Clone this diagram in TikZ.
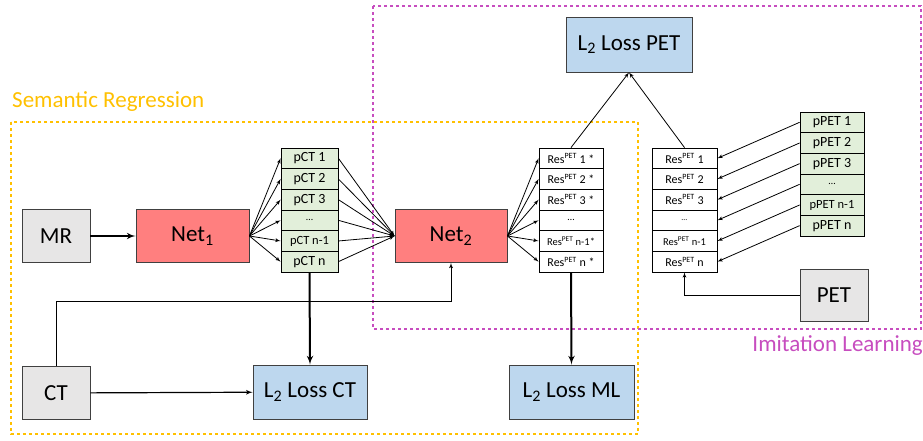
\documentclass[tikz,border=0pt]{standalone}
\usepackage{fontspec}
\setmainfont{Carlito}
\usetikzlibrary{arrows,shapes,calc}
\usetikzlibrary{positioning}
\definecolor{inputgray}{HTML}{E7E6E6}
\definecolor{netred}{HTML}{FF7F7F}
\definecolor{lossblue}{HTML}{BDD7EE}
\definecolor{predgreen}{HTML}{E2EFDA}
\definecolor{semyellow}{HTML}{FFC000}
\definecolor{imimagenta}{HTML}{C74DBF}
\definecolor{boxline}{HTML}{404040}
\newcommand{\respet}{Res\textsuperscript{PET}}
\tikzset{
    block/.style={
           rectangle,
           draw=boxline, line width=0.9pt,
           minimum height=53pt,
           inner sep=2pt,
           text centered,
           font=\fontsize{23}{25}\selectfont,
           },
    cell/.style={
           rectangle,
           draw=black, line width=0.8pt,
           minimum height=20.67pt,
           inner sep=0pt,
           text centered,
           font=\fontsize{14}{15}\selectfont,
           },
    pil/.style={
           ->,
           line width=0.8pt,},
    bigpil/.style={
           ->,
           line width=2pt,},
    regionframe/.style={
           line width=2.6pt,
           dash pattern=on 2.6pt off 3.4pt,}
}

\begin{document}
\begin{tikzpicture}[x=1pt,y=1pt,->,>=latex']
\useasboundingbox (0,0) rectangle (923,-440);
% Regions
\draw[-, regionframe, semyellow] (11,-122) rectangle (638,-434);
\draw[-, regionframe, imimagenta] (373,-6) rectangle (921,-329);
\node[anchor=base west, inner sep=0pt, text=semyellow,
font=\fontsize{23}{25}\selectfont] (SEMLABEL) at (12,-107) {Semantic Regression};
\node[anchor=base east, inner sep=0pt, text=imimagenta,
font=\fontsize{23}{25}\selectfont] (IMILABEL) at (923,-351) {Imitation Learning};
% Position of inputs and networks
\node[block, fill=inputgray, minimum width=68pt] (MR) at (56,-236) {MR};
\node[block,
fill=netred,
minimum width=113pt,
right of = MR,
node distance = 136.5pt] (NET1) {Net\textsubscript{1}};
\node[block,
fill=netred,
minimum width=112pt,
right of = NET1,
node distance = 258.5pt] (NET2) {Net\textsubscript{2}};
\node[block,
fill=inputgray,
minimum width=68pt,
below of = MR,
node distance = 157pt] (CT) {CT};
% Position of pseudo CT stack (PCT)
\node[cell, fill=predgreen, minimum width=57pt, right of = NET1, node distance = 117pt, yshift=77.7pt] (PCT1) {pCT 1};
\node[cell, fill=predgreen, minimum width=57pt, below of = PCT1, node distance = 20.67pt] (PCT2) {pCT 2};
\node[cell, fill=predgreen, minimum width=57pt, below of = PCT2, node distance = 20.67pt] (PCT3) {pCT 3};
\node[cell, fill=predgreen, minimum width=57pt, below of = PCT3, node distance = 20.67pt, font=\fontsize{10}{11}\selectfont] (PCT4) {\dots};
\node[cell, fill=predgreen, minimum width=57pt, below of = PCT4, node distance = 20.67pt, font=\fontsize{12.5}{13}\selectfont] (PCT5) {pCT n-1};
\node[cell, fill=predgreen, minimum width=57pt, below of = PCT5, node distance = 20.67pt] (PCT6) {pCT n};
% Position of estimated residuals (RESS)
\node[cell, fill=white, minimum width=64pt, right of = NET2, node distance = 120pt, yshift=77.7pt, font=\fontsize{12}{13}\selectfont] (RESS1) {\respet{} 1 *};
\node[cell, fill=white, minimum width=64pt, below of = RESS1, node distance = 20.67pt, font=\fontsize{12}{13}\selectfont] (RESS2) {\respet{} 2 *};
\node[cell, fill=white, minimum width=64pt, below of = RESS2, node distance = 20.67pt, font=\fontsize{12}{13}\selectfont] (RESS3) {\respet{} 3 *};
\node[cell, fill=white, minimum width=64pt, below of = RESS3, node distance = 20.67pt, font=\fontsize{10}{11}\selectfont] (RESS4) {\dots};
\node[cell, fill=white, minimum width=64pt, below of = RESS4, node distance = 20.67pt, font=\fontsize{10.5}{11}\selectfont] (RESS5) {\respet{} n-1*};
\node[cell, fill=white, minimum width=64pt, below of = RESS5, node distance = 20.67pt, font=\fontsize{12}{13}\selectfont] (RESS6) {\respet{} n *};
% Position of target residuals (RES)
\node[cell, fill=white, minimum width=65pt, right of = RESS1, node distance = 113.5pt, font=\fontsize{12}{13}\selectfont] (RES1) {\respet{} 1};
\node[cell, fill=white, minimum width=65pt, below of = RES1, node distance = 20.67pt, font=\fontsize{12}{13}\selectfont] (RES2) {\respet{} 2};
\node[cell, fill=white, minimum width=65pt, below of = RES2, node distance = 20.67pt, font=\fontsize{12}{13}\selectfont] (RES3) {\respet{} 3};
\node[cell, fill=white, minimum width=65pt, below of = RES3, node distance = 20.67pt, font=\fontsize{8}{9}\selectfont] (RES4) {\dots};
\node[cell, fill=white, minimum width=65pt, below of = RES4, node distance = 20.67pt, font=\fontsize{10.5}{11}\selectfont] (RES5) {\respet{} n-1};
\node[cell, fill=white, minimum width=65pt, below of = RES5, node distance = 20.67pt, font=\fontsize{12}{13}\selectfont] (RES6) {\respet{} n};
% Position of pseudo PET stack (PPET)
\node[cell, fill=predgreen, minimum width=64pt, right of = RES1, node distance = 147.5pt, yshift=36pt] (PPET1) {pPET 1};
\node[cell, fill=predgreen, minimum width=64pt, below of = PPET1, node distance = 20.67pt] (PPET2) {pPET 2};
\node[cell, fill=predgreen, minimum width=64pt, below of = PPET2, node distance = 20.67pt] (PPET3) {pPET 3};
\node[cell, fill=predgreen, minimum width=64pt, below of = PPET3, node distance = 20.67pt, font=\fontsize{10}{11}\selectfont] (PPET4) {\dots};
\node[cell, fill=predgreen, minimum width=64pt, below of = PPET4, node distance = 20.67pt, font=\fontsize{12.5}{13}\selectfont] (PPET5) {pPET n-1};
\node[cell, fill=predgreen, minimum width=64pt, below of = PPET5, node distance = 20.67pt] (PPET6) {pPET n};
\node[block,
fill=inputgray,
minimum width=68pt,
minimum height=52pt,
below of = PPET6,
node distance = 69.3pt,
xshift = 2pt] (PET) {PET};
% Position of losses
\node[block,
fill=lossblue,
minimum width=114pt,
minimum height=54pt,
right of = CT,
node distance = 254pt,
yshift = 1pt] (L2CT) {L\textsubscript{2} Loss CT};
\node[block,
fill=lossblue,
minimum width=125pt,
minimum height=54pt,
right of = L2CT,
node distance = 261.5pt] (L2ML) {L\textsubscript{2} Loss ML};
\node[block,
fill=lossblue,
minimum width=126pt,
minimum height=55pt,
above of = RESS1,
node distance = 113.8pt,
xshift = 58pt] (L2PET) {L\textsubscript{2} Loss PET};
% Draw lines on graph
\path (MR) edge[bigpil] (NET1);
\path (NET1.east) edge[pil] (PCT1.west);
\path (NET1.east) edge[pil] (PCT2.west);
\path (NET1.east) edge[pil] (PCT3.west);
\path (NET1.east) edge[pil] (PCT4.west);
\path (NET1.east) edge[pil] (PCT5.west);
\path (NET1.east) edge[pil] (PCT6.west);
\path (PCT1.east) edge[pil] (NET2.west);
\path (PCT2.east) edge[pil] (NET2.west);
\path (PCT3.east) edge[pil] (NET2.west);
\path (PCT4.east) edge[pil] (NET2.west);
\path (PCT5.east) edge[pil] (NET2.west);
\path (PCT6.east) edge[pil] (NET2.west);
\path (NET2.east) edge[pil] (RESS1.west);
\path (NET2.east) edge[pil] (RESS2.west);
\path (NET2.east) edge[pil] (RESS3.west);
\path (NET2.east) edge[pil] (RESS4.west);
\path (NET2.east) edge[pil] (RESS5.west);
\path (NET2.east) edge[pil] (RESS6.west);
\path (PCT6.south) edge[bigpil] (L2CT.north);
\path (RESS6.south) edge[bigpil] (L2ML.north);
\path (CT) edge[pil, line width=1.2pt] (L2CT);
\draw[pil] (CT.north) -- ++(0,65pt) -| (NET2.south);
% Draw in imitation lines
\path (RESS1.north) edge[pil] (L2PET.south);
\path (RES1.north) edge[pil] (L2PET.south);
\path (PPET1.west) edge[pil] (RES1.east);
\path (PPET2.west) edge[pil] (RES2.east);
\path (PPET3.west) edge[pil] (RES3.east);
\path (PPET4.west) edge[pil] (RES4.east);
\path (PPET5.west) edge[pil] (RES5.east);
\path (PPET6.west) edge[pil] (RES6.east);
\draw[pil] (PET.west) -| (RES6.south);
\end{tikzpicture}
\end{document}
